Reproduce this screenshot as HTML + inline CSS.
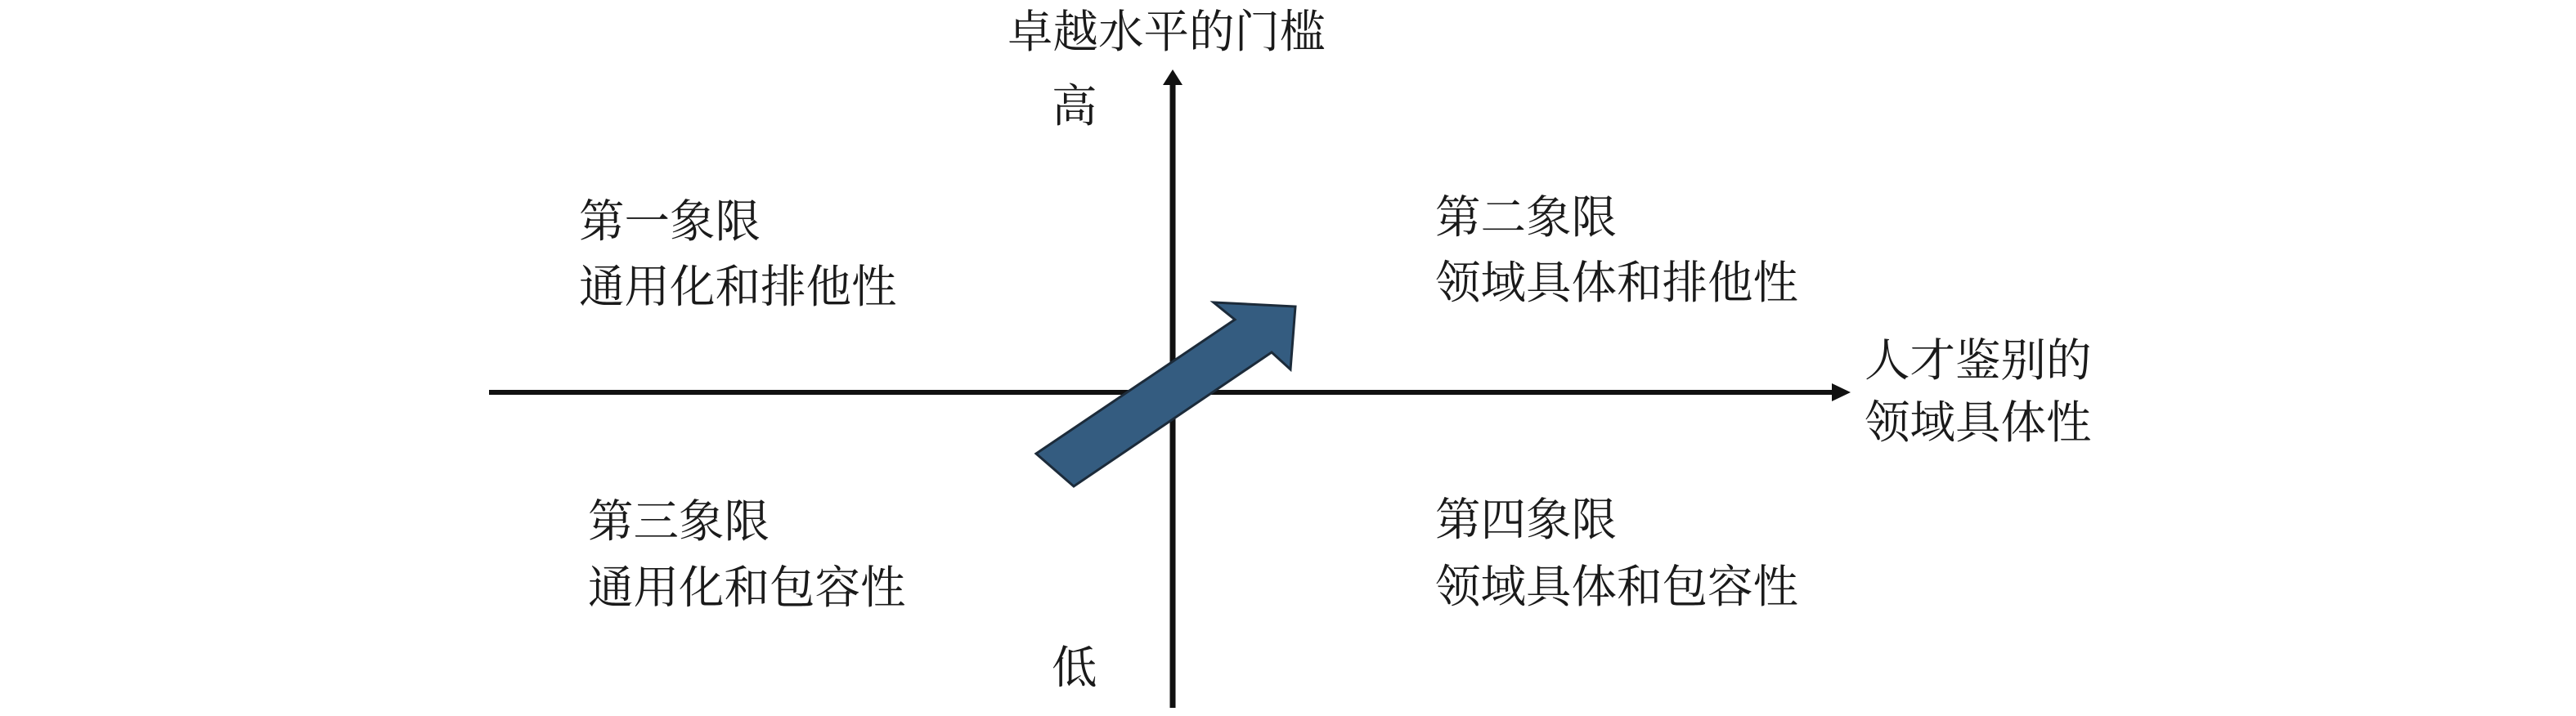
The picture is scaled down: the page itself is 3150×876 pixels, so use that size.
<!DOCTYPE html>
<html><head><meta charset="utf-8"><style>
html,body{margin:0;padding:0;background:#fff;width:3150px;height:876px;overflow:hidden}
text{font-family:"Liberation Serif","Noto Serif CJK SC",serif;font-size:55.5px;fill:#1a1a1a}
</style></head><body>
<svg width="3150" height="876" viewBox="0 0 3150 876" xmlns="http://www.w3.org/2000/svg">
<rect width="3150" height="876" fill="#fff"/>
<line x1="598" y1="480" x2="2246" y2="480" stroke="#111" stroke-width="6"/>
<polygon points="2263,480 2240,469 2240,491" fill="#111"/>
<line x1="1434" y1="866" x2="1434" y2="100" stroke="#111" stroke-width="7"/>
<polygon points="1434,85 1422,104 1446,104" fill="#111"/>
<polygon points="1267,555 1510,391 1484,370 1584,375 1578,452 1555,431 1313,595" fill="#345c80" stroke="#1c2b3a" stroke-width="3" stroke-linejoin="miter"/>
<text x="1232" y="58" font-size="56">卓越水平的门槛</text>
<text x="1286" y="149">高</text>
<text x="1286" y="836">低</text>
<text x="708" y="290">第一象限</text>
<text x="708" y="370">通用化和排他性</text>
<text x="719" y="657">第三象限</text>
<text x="719" y="738">通用化和包容性</text>
<text x="1755" y="285">第二象限</text>
<text x="1755" y="365">领域具体和排他性</text>
<text x="1755" y="655">第四象限</text>
<text x="1755" y="737">领域具体和包容性</text>
<text x="2280" y="460">人才鉴别的</text>
<text x="2280" y="536">领域具体性</text>
</svg>
</body></html>
